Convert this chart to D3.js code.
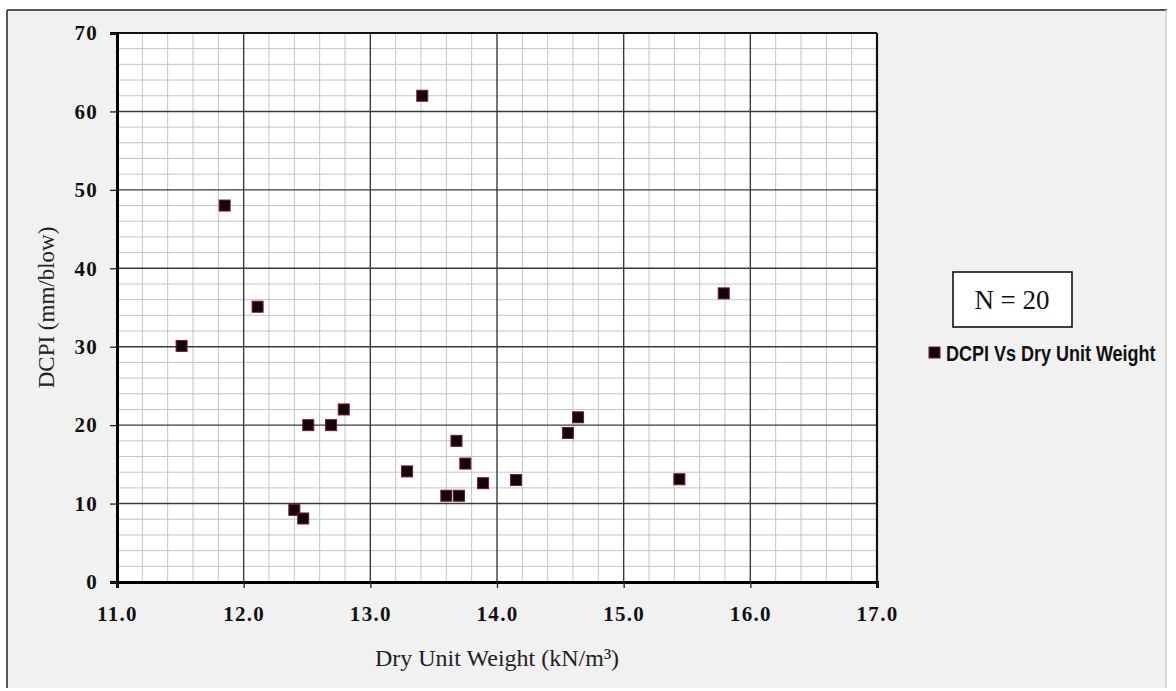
<!DOCTYPE html>
<html>
<head>
<meta charset="utf-8">
<script src="https://cdn.jsdelivr.net/npm/d3@7"></script>
<style>
  html, body { margin: 0; padding: 0; background: #ffffff; }
  svg { display: block; }
</style>
</head>
<body>
<svg id="chart" width="1176" height="691"></svg>
<script>
// Dry unit weight (kN/m³) and DCPI (mm/blow) for each test location
const dryUnitWeight = [11.51, 11.85, 12.11, 12.40, 12.47, 12.51, 12.69, 12.79, 13.29, 13.41,
                       13.60, 13.68, 13.70, 13.75, 13.89, 14.15, 14.56, 14.64, 15.44, 15.79];
const dcpi          = [30.1, 48.0, 35.1, 9.2, 8.1, 20.0, 20.0, 22.0, 14.1, 62.0,
                       11.0, 18.0, 11.0, 15.1, 12.6, 13.0, 19.0, 21.0, 13.1, 36.8];
const xTicks = [11, 12, 13, 14, 15, 16, 17];
const yTicks = [0, 10, 20, 30, 40, 50, 60, 70];
const seriesName = "DCPI Vs Dry Unit Weight";
const sampleLabel = "N = 20";
const xTitle = "Dry Unit Weight (kN/m³)";
const yTitle = "DCPI (mm/blow)";

const W = 1176, H = 691;
const plot = { left: 117, top: 33, right: 877, bottom: 582 };

const svg = d3.select("#chart");

// chart area background and frame
svg.append("rect").attr("x", 0).attr("y", 0).attr("width", W).attr("height", H).attr("fill", "#ffffff");
svg.append("rect").attr("x", 7).attr("y", 10).attr("width", 1160).attr("height", 678)
  .attr("fill", "#f1f1f1");
svg.append("line").attr("x1", 7).attr("x2", 1167).attr("y1", 10).attr("y2", 10)
  .attr("stroke", "#555").attr("stroke-width", 2);
svg.append("line").attr("x1", 7).attr("x2", 7).attr("y1", 10).attr("y2", 688)
  .attr("stroke", "#555").attr("stroke-width", 2);
svg.append("line").attr("x1", 1166).attr("x2", 1166).attr("y1", 10).attr("y2", 688)
  .attr("stroke", "#d0d0d0").attr("stroke-width", 1.5);

const x = d3.scaleLinear().domain([11, 17]).range([plot.left, plot.right]);
const y = d3.scaleLinear().domain([0, 70]).range([plot.bottom, plot.top]);

// plot area
svg.append("rect").attr("x", plot.left).attr("y", plot.top)
  .attr("width", plot.right - plot.left).attr("height", plot.bottom - plot.top)
  .attr("fill", "#ffffff");

// minor grid: every 0.2 on x, every 2 on y
const xMinor = d3.range(11, 17.0001, 0.2).filter(v => Math.abs(v - Math.round(v)) > 1e-6);
const yMinor = d3.range(0, 70.0001, 2).filter(v => v % 10 !== 0);
const grid = svg.append("g");
grid.selectAll("line.xm").data(xMinor).join("line")
  .attr("x1", d => x(d)).attr("x2", d => x(d))
  .attr("y1", plot.top).attr("y2", plot.bottom)
  .attr("stroke", "#c4c4c4").attr("stroke-width", 1);
grid.selectAll("line.ym").data(yMinor).join("line")
  .attr("x1", plot.left).attr("x2", plot.right)
  .attr("y1", d => y(d)).attr("y2", d => y(d))
  .attr("stroke", "#c4c4c4").attr("stroke-width", 1);

// major grid
grid.selectAll("line.xM").data(xTicks.slice(1, -1)).join("line")
  .attr("x1", d => x(d)).attr("x2", d => x(d))
  .attr("y1", plot.top).attr("y2", plot.bottom)
  .attr("stroke", "#3a3a3a").attr("stroke-width", 1.4);
grid.selectAll("line.yM").data(yTicks.slice(1, -1)).join("line")
  .attr("x1", plot.left).attr("x2", plot.right)
  .attr("y1", d => y(d)).attr("y2", d => y(d))
  .attr("stroke", "#3a3a3a").attr("stroke-width", 1.4);

// top and right frame of the plot
svg.append("line").attr("x1", plot.left).attr("x2", plot.right).attr("y1", plot.top).attr("y2", plot.top)
  .attr("stroke", "#111").attr("stroke-width", 2.2);
svg.append("line").attr("x1", plot.right).attr("x2", plot.right).attr("y1", plot.top).attr("y2", plot.bottom)
  .attr("stroke", "#111").attr("stroke-width", 2.2);

// axes
const tickFont = "'Liberation Serif', 'Times New Roman', serif";
const xAxis = svg.append("g").attr("transform", `translate(0,${plot.bottom})`)
  .call(d3.axisBottom(x).tickValues(xTicks).tickFormat(d3.format(".1f")).tickSize(6).tickPadding(18));
const yAxis = svg.append("g").attr("transform", `translate(${plot.left},0)`)
  .call(d3.axisLeft(y).tickValues(yTicks).tickSize(7).tickPadding(12));

[xAxis, yAxis].forEach(g => {
  g.select(".domain").attr("stroke", "#000").attr("stroke-width", 3);
  g.selectAll(".tick line").attr("stroke", "#222").attr("stroke-width", 1.3);
  g.selectAll(".tick text")
    .attr("fill", "#111")
    .style("font-family", tickFont)
    .style("font-weight", "bold")
    .style("font-size", "21px")
    .style("letter-spacing", "1.3px");
});

// axis titles
svg.append("text").attr("x", (plot.left + plot.right) / 2).attr("y", 666)
  .attr("text-anchor", "middle")
  .style("font-family", tickFont).style("font-size", "24px").attr("fill", "#222")
  .text(xTitle);
svg.append("text")
  .attr("transform", `translate(54,${(plot.top + plot.bottom) / 2}) rotate(-90)`)
  .attr("text-anchor", "middle")
  .style("font-family", tickFont).style("font-size", "23px").attr("fill", "#222")
  .text(yTitle);

// data points
const pts = dryUnitWeight.map((v, i) => ({ w: v, d: dcpi[i] }));
const size = 11;
svg.append("g").selectAll("rect").data(pts).join("rect")
  .attr("x", p => x(p.w) - size / 2)
  .attr("y", p => y(p.d) - size / 2)
  .attr("width", size).attr("height", size)
  .attr("fill", "#120609")
  .attr("stroke", "#7a1535").attr("stroke-width", 1);

// sample size box
const nBox = svg.append("g");
nBox.append("rect").attr("x", 953).attr("y", 272).attr("width", 119).attr("height", 55)
  .attr("fill", "#ffffff").attr("stroke", "#111").attr("stroke-width", 1.6);
nBox.append("text").attr("x", 1012).attr("y", 309).attr("text-anchor", "middle")
  .style("font-family", tickFont).style("font-size", "27px").attr("fill", "#111")
  .text(sampleLabel);

// legend (condensed bold label)
const legend = svg.append("g");
legend.append("rect").attr("x", 929).attr("y", 347).attr("width", 11).attr("height", 11)
  .attr("fill", "#120609").attr("stroke", "#7a1535").attr("stroke-width", 1);
legend.append("text")
  .attr("transform", "translate(946,361) scale(0.8,1)")
  .style("font-family", "'Liberation Sans', Arial, sans-serif")
  .style("font-weight", "bold").style("font-size", "22.5px").attr("fill", "#111")
  .text(seriesName);
</script>
</body>
</html>
